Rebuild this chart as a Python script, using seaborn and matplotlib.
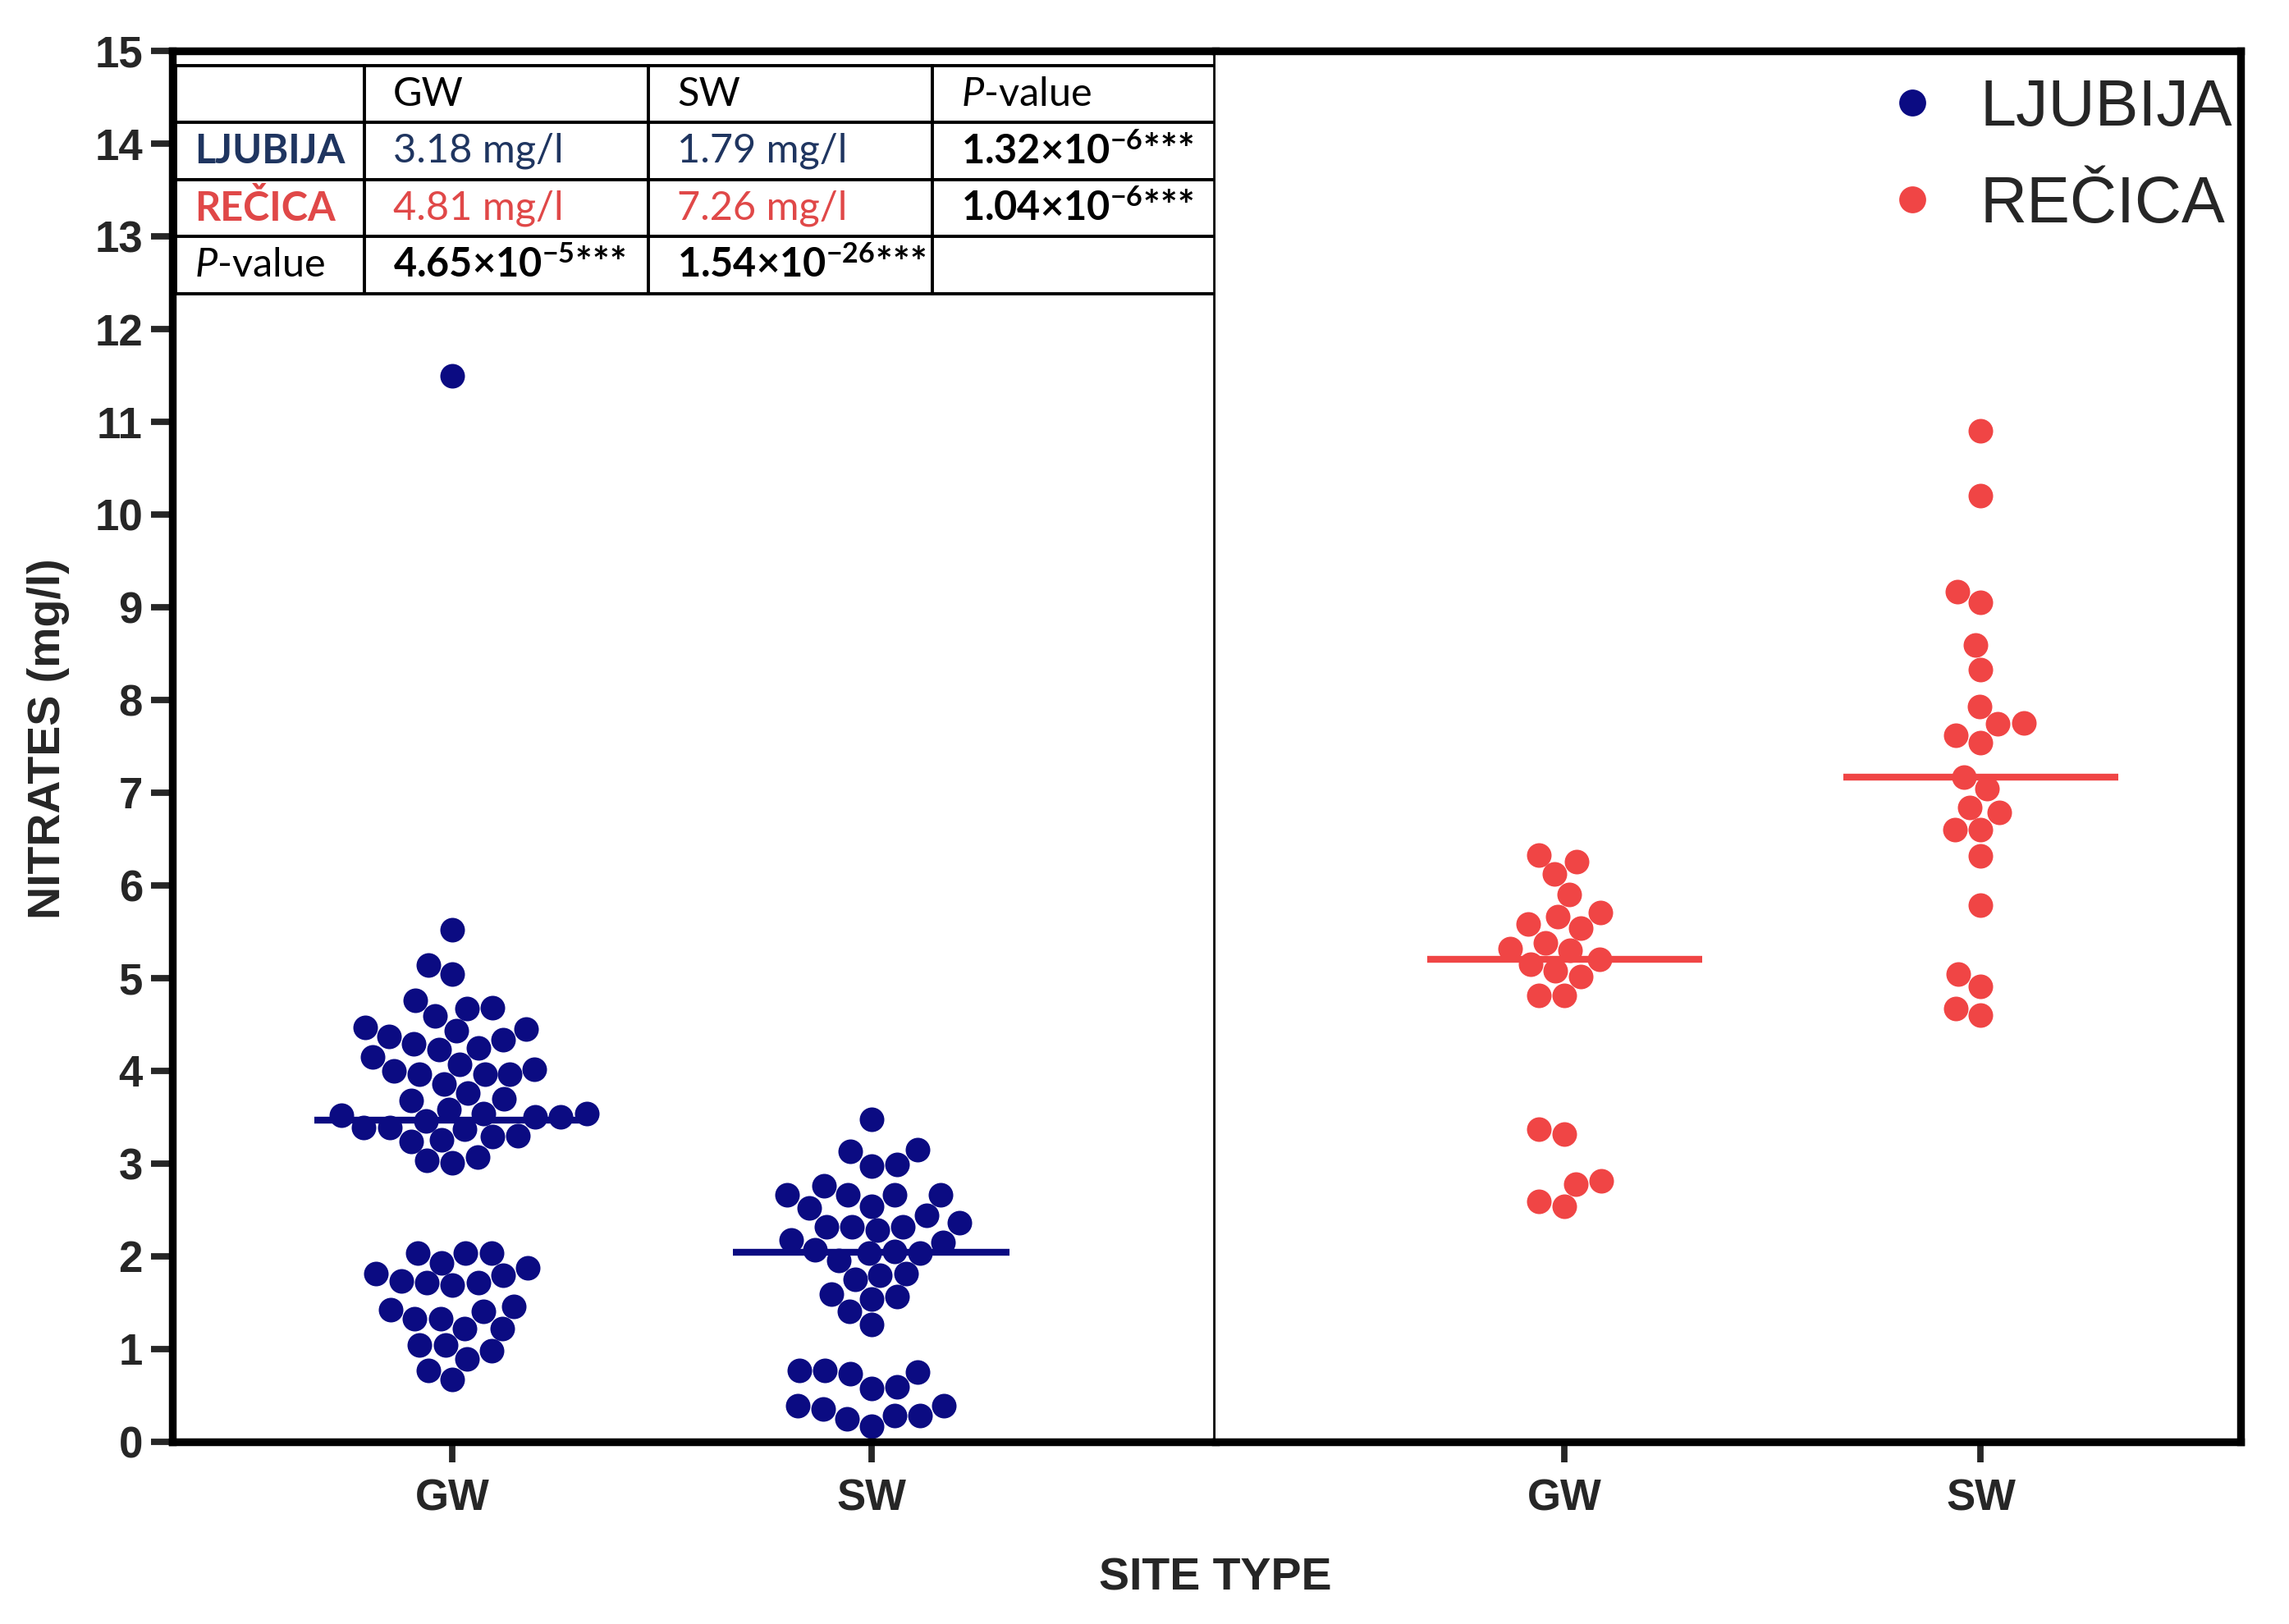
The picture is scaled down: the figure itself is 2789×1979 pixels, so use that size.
import matplotlib
matplotlib.use("Agg")
import matplotlib.pyplot as plt
from matplotlib.lines import Line2D
import seaborn as sns
import pandas as pd

# values (mg/l)
site_types = ["GW", "SW"]
ljubija_gw = [11.5, 5.52, 5.14, 5.04, 4.76, 4.68, 4.67, 4.59, 4.47, 4.45, 4.43, 4.37,
              4.33, 4.29, 4.25, 4.23, 4.15, 4.07, 4.02, 4.00, 3.96, 3.96, 3.96, 3.86,
              3.76, 3.70, 3.68, 3.58, 3.54, 3.54, 3.52, 3.50, 3.50, 3.46, 3.39, 3.39,
              3.37, 3.30, 3.29, 3.25, 3.24, 3.07, 3.03, 3.01, 2.03, 2.03, 2.03, 1.93,
              1.87, 1.81, 1.79, 1.73, 1.71, 1.71, 1.69, 1.46, 1.42, 1.40, 1.32, 1.32,
              1.22, 1.22, 1.04, 1.04, 0.98, 0.89, 0.77, 0.67]
ljubija_sw = [3.48, 3.15, 3.13, 2.99, 2.97, 2.76, 2.66, 2.66, 2.66, 2.66, 2.54, 2.52,
              2.44, 2.36, 2.32, 2.32, 2.32, 2.28, 2.17, 2.15, 2.07, 2.05, 2.03, 2.03,
              1.95, 1.81, 1.79, 1.75, 1.59, 1.56, 1.54, 1.40, 1.26, 0.77, 0.77, 0.75,
              0.73, 0.59, 0.57, 0.39, 0.39, 0.35, 0.28, 0.28, 0.24, 0.16]
recica_gw = [6.33, 6.26, 6.12, 5.90, 5.71, 5.66, 5.58, 5.54, 5.38, 5.32, 5.30, 5.20,
             5.15, 5.08, 5.02, 4.81, 4.81, 3.37, 3.32, 2.81, 2.78, 2.59, 2.54]
recica_sw = [10.9, 10.2, 9.17, 9.05, 8.59, 8.33, 7.93, 7.75, 7.74, 7.62, 7.54, 7.17,
             7.04, 6.84, 6.79, 6.60, 6.60, 6.32, 5.79, 5.04, 4.91, 4.67, 4.60]
ljubija_medians = [3.47, 2.04]
recica_medians = [5.20, 7.17]

# summary table
table_header = ["", "GW", "SW", r"$\it{P}$-value"]
table_rows = [
    ["LJUBIJA", "3.18 mg/l", "1.79 mg/l", r"1.32×10$^{\mathbf{-6}}$***"],
    ["REČICA", "4.81 mg/l", "7.26 mg/l", r"1.04×10$^{\mathbf{-6}}$***"],
    [r"$\it{P}$-value", r"4.65×10$^{\mathbf{-5}}$***", r"1.54×10$^{\mathbf{-26}}$***", ""],
]

NAVY = "#0b0b82"
RED = "#f04545"
TXT_NAVY = "#1f3560"
TXT_RED = "#e04848"

sns.set_style("ticks")
plt.rcParams["font.family"] = ["Liberation Sans", "DejaVu Sans"]
plt.rcParams["mathtext.fontset"] = "custom"
plt.rcParams["mathtext.rm"] = "Lato"
plt.rcParams["mathtext.it"] = "Lato:italic"
plt.rcParams["mathtext.bf"] = "Lato:bold"

fig = plt.figure(figsize=(13.945, 9.895), dpi=200)
ax1 = fig.add_axes([0.0753, 0.1124, 0.4557, 0.8561])
ax2 = fig.add_axes([0.5310, 0.1124, 0.4480, 0.8561])


def draw_site(ax, gw, sw, medians, color):
    df = pd.DataFrame({
        "type": ["GW"] * len(gw) + ["SW"] * len(sw),
        "nitrate": gw + sw,
    })
    sns.swarmplot(data=df, x="type", y="nitrate", order=site_types,
                  color=color, size=10.8, linewidth=0, ax=ax, zorder=2)
    for i, m in enumerate(medians):
        ax.hlines(m, i - 0.33, i + 0.33, color=color, lw=3, zorder=3)
    ax.set_xlabel("")
    ax.set_ylabel("")
    ax.set_ylim(0, 15)


draw_site(ax1, ljubija_gw, ljubija_sw, ljubija_medians, NAVY)
draw_site(ax2, recica_gw, recica_sw, recica_medians, RED)
ax1.set_xlim(-0.669, 1.822)
ax2.set_xlim(-0.839, 1.625)

for ax in (ax1, ax2):
    for s in ax.spines.values():
        s.set_linewidth(3.4)
        s.set_color("black")
    ax.tick_params(axis="x", length=9, width=2.8, pad=7, labelsize=19)
    for lab in ax.get_xticklabels():
        lab.set_fontweight("bold")
ax1.spines["right"].set_linewidth(2.4)
ax2.spines["left"].set_visible(False)
ax1.set_yticks(range(0, 16))
ax1.tick_params(axis="y", length=9.5, width=2.8, pad=3.5, labelsize=19)
for lab in ax1.get_yticklabels():
    lab.set_fontweight("bold")
ax2.tick_params(axis="y", left=False, labelleft=False)

fig.text(0.021, 0.545, "NITRATES (mg/l)", rotation=90, ha="center", va="center",
         fontsize=20, fontweight="bold")
fig.text(0.531, 0.028, "SITE TYPE", ha="center", va="center",
         fontsize=20, fontweight="bold")

# table in the top left corner
tbl = ax1.table(cellText=[table_header] + table_rows, cellLoc="left",
                colWidths=[0.182, 0.273, 0.273, 0.272],
                bbox=[0.003, 0.8256, 0.997, 0.164])
tbl.auto_set_font_size(False)
for (r, c), cell in tbl.get_celld().items():
    cell.set_linewidth(1.4)
    cell.set_edgecolor("black")
    t = cell.get_text()
    t.set_fontsize(17.5)
    t.set_family(["Lato", "DejaVu Sans"])
    t.set_color("black")
    if r == 1 and c in (0, 1, 2):
        t.set_color(TXT_NAVY)
    if r == 2 and c in (0, 1, 2):
        t.set_color(TXT_RED)
    if (r in (1, 2) and c == 0) or (r in (1, 2) and c == 3) or (r == 3 and c in (1, 2)):
        t.set_fontweight("bold")

handles = [Line2D([], [], ls="", marker="o", ms=10.8, color=NAVY),
           Line2D([], [], ls="", marker="o", ms=10.8, color=RED)]
ax2.legend(handles, ["LJUBIJA", "REČICA"], loc="upper right", frameon=False,
           fontsize=28.5, handletextpad=0.55, labelspacing=0.55,
           borderaxespad=0.0, borderpad=0.3, handlelength=1.0,
           bbox_to_anchor=(1.011, 0.995))

fig.savefig("out.png", dpi=200)
